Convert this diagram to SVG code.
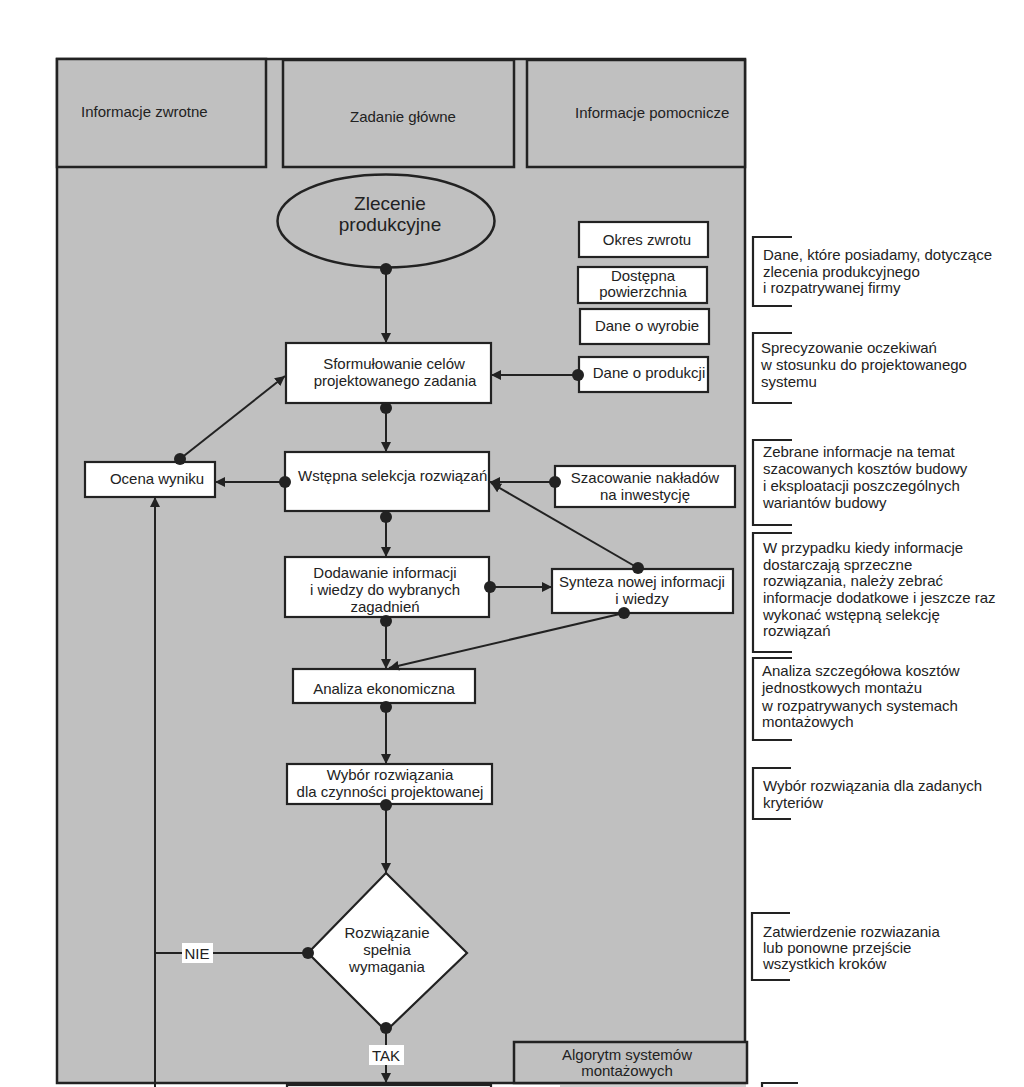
<svg xmlns="http://www.w3.org/2000/svg" width="1024" height="1087" viewBox="0 0 1024 1087">
<defs>
<style>
text{font-family:"Liberation Sans",Arial,sans-serif;font-size:15px;fill:#222}
.c{text-anchor:middle}
.grey{fill:#c0c0c0;stroke:#222;stroke-width:2.5}
.box{fill:#fff;stroke:#222;stroke-width:2.2}
.ln{fill:none;stroke:#222;stroke-width:2}
.br{fill:none;stroke:#222;stroke-width:2.2}
.dot{fill:#222}
.lbl{fill:#fff;stroke:none}
</style>
<marker id="ah" viewBox="0 0 10 10" refX="10" refY="5" markerWidth="10" markerHeight="10" markerUnits="userSpaceOnUse" orient="auto">
<path d="M0,0 L10,5 L0,10 z" fill="#222"/>
</marker>
</defs>
<rect width="1024" height="1087" fill="#fff"/>
<g id="panel">
<rect class="grey" x="57" y="59" width="688" height="1024"/>
</g>
<g id="hdr-zwrotne"><rect class="grey" x="57" y="59" width="209" height="108"/><text x="81" y="117">Informacje zwrotne</text></g>
<g id="hdr-zadanie"><rect class="grey" x="283" y="60" width="231" height="107"/><text x="350" y="122">Zadanie główne</text></g>
<g id="hdr-pomocnicze"><rect class="grey" x="527" y="60" width="218" height="107"/><text x="575" y="118">Informacje pomocnicze</text></g>

<g id="zlecenie"><ellipse cx="386" cy="221" rx="108.5" ry="46.5" fill="#c0c0c0" stroke="#222" stroke-width="2.5"/>
<text class="c" x="390" y="210" style="font-size:19px">Zlecenie</text><text class="c" x="390" y="231" style="font-size:19px">produkcyjne</text></g>

<g id="okres"><rect class="box" x="579" y="222" width="129" height="35"/><text class="c" x="647" y="245">Okres zwrotu</text></g>
<g id="dostepna"><rect class="box" x="578" y="267" width="129" height="36"/><text class="c" x="643" y="281">Dostępna</text><text class="c" x="643" y="297">powierzchnia</text></g>
<g id="wyrob"><rect class="box" x="580" y="309" width="129" height="35"/><text class="c" x="647" y="331">Dane o wyrobie</text></g>
<g id="produkcja"><rect class="box" x="579" y="357" width="129" height="35"/><text class="c" x="649" y="378">Dane o produkcji</text></g>

<g id="sformulowanie"><rect class="box" x="286" y="343" width="205" height="60"/><text class="c" x="394" y="369">Sformułowanie celów</text><text class="c" x="395" y="386">projektowanego zadania</text></g>
<g id="ocena"><rect class="box" x="85" y="462" width="130" height="35"/><text class="c" x="157" y="484">Ocena wyniku</text></g>
<g id="wstepna"><rect class="box" x="285" y="452" width="204" height="59"/><text x="298" y="481">Wstępna selekcja rozwiązań</text></g>
<g id="szacowanie"><rect class="box" x="555" y="466" width="180" height="41"/><text class="c" x="645" y="483">Szacowanie nakładów</text><text class="c" x="645" y="500">na inwestycję</text></g>
<g id="dodawanie"><rect class="box" x="285" y="557" width="204" height="60"/><text class="c" x="385" y="578">Dodawanie informacji</text><text class="c" x="385" y="595">i wiedzy do wybranych</text><text class="c" x="385" y="612">zagadnień</text></g>
<g id="synteza"><rect class="box" x="552" y="569" width="181" height="44"/><text class="c" x="642" y="587">Synteza nowej informacji</text><text class="c" x="642" y="604">i wiedzy</text></g>
<g id="analiza"><rect class="box" x="293" y="669" width="182" height="34"/><text class="c" x="384" y="694">Analiza ekonomiczna</text></g>
<g id="wybor"><rect class="box" x="287" y="764" width="205" height="40"/><text class="c" x="390" y="780">Wybór rozwiązania</text><text class="c" x="390" y="797">dla czynności projektowanej</text></g>
<g id="decyzja"><polygon class="box" points="386,873 467,953 386,1031 308,953"/><text class="c" x="387" y="938">Rozwiązanie</text><text class="c" x="387" y="955">spełnia</text><text class="c" x="387" y="972">wymagania</text></g>
<g id="algorytm"><rect class="grey" x="514" y="1042" width="233" height="41"/><text class="c" x="627" y="1060">Algorytm systemów</text><text class="c" x="627" y="1076">montażowych</text></g>
<g id="next-box"><rect class="box" x="287" y="1085" width="204" height="40"/></g>
<g id="next-strip"><rect x="560" y="1085" width="186" height="4" fill="#d0d0d0"/></g>

<g id="connectors">
<line class="ln" x1="386" y1="269" x2="386" y2="343" marker-end="url(#ah)"/>
<line class="ln" x1="386" y1="408" x2="386" y2="452" marker-end="url(#ah)"/>
<line class="ln" x1="578" y1="375" x2="491" y2="375" marker-end="url(#ah)"/>
<line class="ln" x1="180" y1="459" x2="285" y2="376" marker-end="url(#ah)"/>
<line class="ln" x1="285" y1="482" x2="215" y2="482" marker-end="url(#ah)"/>
<line class="ln" x1="555" y1="482" x2="490" y2="482" marker-end="url(#ah)"/>
<line class="ln" x1="638" y1="568" x2="491" y2="483" marker-end="url(#ah)"/>
<line class="ln" x1="386" y1="517" x2="386" y2="557" marker-end="url(#ah)"/>
<line class="ln" x1="490" y1="587" x2="552" y2="587" marker-end="url(#ah)"/>
<line class="ln" x1="624" y1="613" x2="389" y2="668" marker-end="url(#ah)"/>
<line class="ln" x1="386" y1="621" x2="386" y2="669" marker-end="url(#ah)"/>
<line class="ln" x1="386" y1="707" x2="386" y2="764" marker-end="url(#ah)"/>
<line class="ln" x1="386" y1="805" x2="386" y2="873" marker-end="url(#ah)"/>
<line class="ln" x1="308" y1="953" x2="155" y2="953"/>
<line class="ln" x1="155" y1="1090" x2="155" y2="497" marker-end="url(#ah)"/>
<line class="ln" x1="386" y1="1028" x2="386" y2="1083" marker-end="url(#ah)"/>
<circle class="dot" cx="386" cy="269" r="6"/>
<circle class="dot" cx="386" cy="408" r="6"/>
<circle class="dot" cx="578" cy="375" r="6"/>
<circle class="dot" cx="180" cy="459" r="6"/>
<circle class="dot" cx="285" cy="482" r="6"/>
<circle class="dot" cx="555" cy="482" r="6"/>
<circle class="dot" cx="638" cy="568" r="6"/>
<circle class="dot" cx="386" cy="517" r="6"/>
<circle class="dot" cx="490" cy="587" r="6"/>
<circle class="dot" cx="624" cy="613" r="6"/>
<circle class="dot" cx="386" cy="621" r="6"/>
<circle class="dot" cx="386" cy="707" r="6"/>
<circle class="dot" cx="386" cy="805" r="6"/>
<circle class="dot" cx="308" cy="953" r="6"/>
<circle class="dot" cx="386" cy="1028" r="6"/>
<rect class="lbl" x="182" y="943" width="31" height="20"/>
<text class="c" x="197" y="959">NIE</text>
<rect class="lbl" x="369" y="1045" width="35" height="20"/>
<text class="c" x="386" y="1061">TAK</text>
</g>

<g id="annotations">
<path class="br" d="M792,237 H753 V306 H792"/>
<text x="763" y="260">Dane, które posiadamy, dotyczące</text>
<text x="763" y="277">zlecenia produkcyjnego</text>
<text x="763" y="293">i rozpatrywanej firmy</text>
<path class="br" d="M792,333 H753 V403 H792"/>
<text x="761" y="353">Sprecyzowanie oczekiwań</text>
<text x="761" y="370">w stosunku do projektowanego</text>
<text x="761" y="387">systemu</text>
<path class="br" d="M792,440 H753 V525 H792"/>
<text x="763" y="457">Zebrane informacje na temat</text>
<text x="763" y="474">szacowanych kosztów budowy</text>
<text x="763" y="491">i eksploatacji poszczególnych</text>
<text x="763" y="508">wariantów budowy</text>
<path class="br" d="M792,533 H753 V652 H792"/>
<text x="763" y="553">W przypadku kiedy informacje</text>
<text x="763" y="570">dostarczają sprzeczne</text>
<text x="763" y="586">rozwiązania, należy zebrać</text>
<text x="763" y="603">informacje dodatkowe i jeszcze raz</text>
<text x="763" y="620">wykonać wstępną selekcję</text>
<text x="763" y="636">rozwiązań</text>
<path class="br" d="M792,658 H753 V740 H792"/>
<text x="762" y="676">Analiza szczegółowa kosztów</text>
<text x="762" y="693">jednostkowych montażu</text>
<text x="762" y="711">w rozpatrywanych systemach</text>
<text x="762" y="727">montażowych</text>
<path class="br" d="M791,768 H753 V819 H791"/>
<text x="763" y="791">Wybór rozwiązania dla zadanych</text>
<text x="763" y="808">kryteriów</text>
<path class="br" d="M790,913 H752 V980 H790"/>
<text x="763" y="937">Zatwierdzenie rozwiazania</text>
<text x="763" y="953">lub ponowne przejście</text>
<text x="763" y="969">wszystkich kroków</text>
<path class="br" d="M798,1083 H762 V1095"/>
</g>
</svg>
